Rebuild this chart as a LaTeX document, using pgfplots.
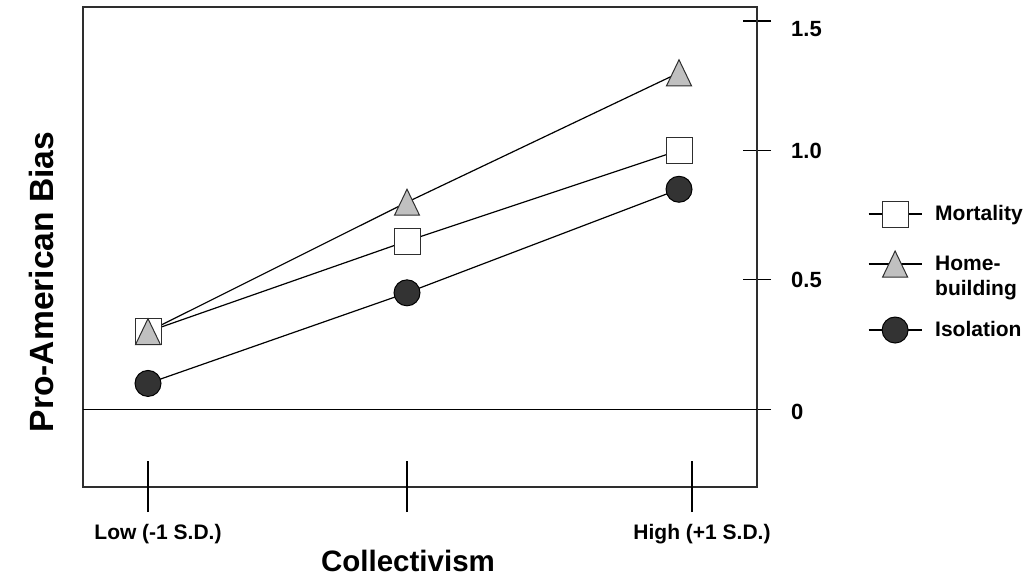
\documentclass[border=0pt]{standalone}
\usepackage{fontspec}
\setmainfont{Liberation Sans}
\usepackage{pgfplots}
\pgfplotsset{compat=1.18}

\definecolor{axisgray}{HTML}{2E2E2E}
\definecolor{trigray}{HTML}{C0C0C0}
\definecolor{dotgray}{HTML}{333333}

% isosceles triangle, as wide as it is tall, centred on the point
\pgfdeclareplotmark{htri}{%
  \pgfpathmoveto{\pgfqpoint{0pt}{\pgfplotmarksize}}%
  \pgfpathlineto{\pgfqpoint{-0.96\pgfplotmarksize}{-\pgfplotmarksize}}%
  \pgfpathlineto{\pgfqpoint{0.96\pgfplotmarksize}{-\pgfplotmarksize}}%
  \pgfpathclose
  \pgfusepathqfillstroke}

\newcommand{\lbl}{\fontsize{21}{25}\selectfont\bfseries}
% legend text: box of fixed size so the first line sits level with the marker
\newcommand{\entry}[1]{\raisebox{0pt}[14.8pt][0pt]{#1}}

\begin{document}
\begin{tikzpicture}
\useasboundingbox (0pt,0pt) rectangle (1032pt,576pt);

\begin{axis}[
    at={(83pt,89pt)}, anchor=south west,
    width=674pt, height=480pt, scale only axis,
    xmin=83, xmax=757,
    ymin=-0.3, ymax=1.554,
    clip=false,
    axis line style={axisgray, line width=1.3pt},
    xtick={148,407,692},
    xticklabels={Low (-1 S.D.),,High (+1 S.D.)},
    xtick pos=bottom,
    xtick style={draw=none},
    xticklabel style={anchor=north, inner sep=0pt, xshift=10pt, yshift=-23pt, font=\lbl},
    ytick={0,0.5,1,1.5},
    yticklabels={\raisebox{-3pt}[15pt][0pt]{0},0.5,1.0,\raisebox{-8pt}[15pt][0pt]{1.5}},
    ytick pos=right,
    tick align=center,
    major tick length=28pt,
    ytick style={black, line width=1.2pt},
    yticklabel style={anchor=west, inner sep=0pt, xshift=20pt,
        font=\fontsize{22}{26}\selectfont\bfseries},
    legend style={draw=none, fill=none, inner sep=0pt, outer sep=0pt,
        at={(rel axis cs:1.1647,0.5958)}, anchor=north west,
        row sep=15.1pt, column sep=13pt, font=\lbl,
        nodes={inner sep=0pt}},
    legend cell align=left,
    legend image code/.code={%
        \draw[mark repeat=2, mark phase=2]
        plot coordinates {(0pt,0pt) (26.5pt,0pt) (53pt,0pt)};},
]

% zero line
\draw[black, line width=1.2pt] (axis cs:83,0) -- (axis cs:757,0);
% x ticks, crossing the lower frame
\pgfplotsinvokeforeach{148,407,692}{
    \draw[black, line width=1.2pt] (axis cs:#1,-0.3) ++(0pt,-25pt) -- ++(0pt,51pt);
}

\addplot[black, line width=1.2pt, mark=square*, mark size=13pt,
    mark options={fill=white, draw=axisgray, line width=1pt}]
    coordinates {(148,0.30) (407,0.65) (679,1.00)};
\addlegendentry{\entry{Mortality}}

% taller legend row: room for the two-line entry
\addplot[black, line width=1.2pt, mark=htri, mark size=13pt,
    mark options={fill=trigray, draw=axisgray, line width=1pt},
    legend image code/.code={%
        \path[draw=none, fill=none] (0pt,-37.9pt) -- (0pt,21.9pt);
        \draw[mark repeat=2, mark phase=2]
        plot coordinates {(0pt,0pt) (26.5pt,0pt) (53pt,0pt)};}]
    coordinates {(148,0.30) (407,0.80) (679,1.30)};
\addlegendentry{\entry{\vtop{\hbox{Home-}\hbox{building}}}}

\addplot[black, line width=1.2pt, mark=*, mark size=13pt,
    mark options={fill=dotgray, draw=black, line width=1pt}]
    coordinates {(148,0.10) (407,0.45) (679,0.85)};
\addlegendentry{\entry{Isolation}}

\end{axis}

\node[anchor=base, inner sep=0pt, font=\fontsize{29.5}{34}\selectfont\bfseries]
    at (408pt,5pt) {Collectivism};
\node[anchor=base, rotate=90, inner sep=0pt, font=\fontsize{33.6}{40}\selectfont\bfseries]
    at (53pt,294pt) {Pro-American Bias};
\end{tikzpicture}
\end{document}
